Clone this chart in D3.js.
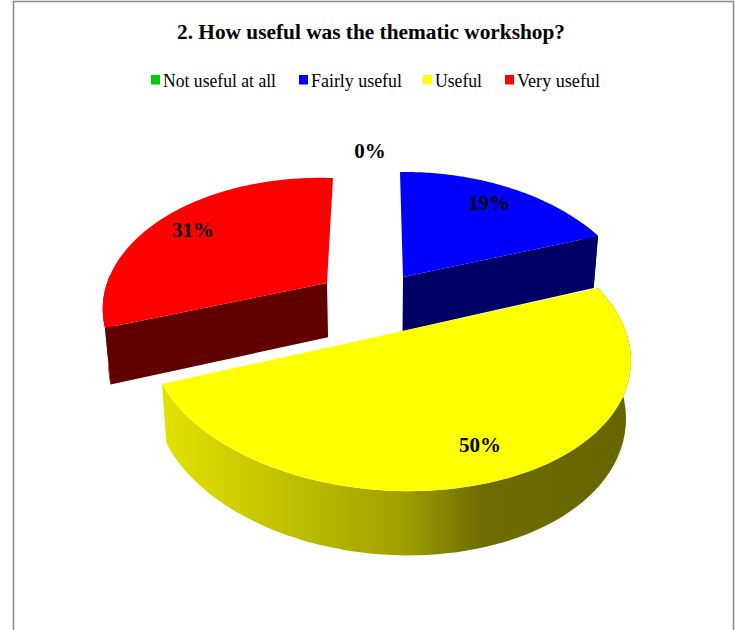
<!DOCTYPE html>
<html>
<head>
<meta charset="utf-8">
<script src="https://cdn.jsdelivr.net/npm/d3@7/dist/d3.min.js"></script>
<style>
  html, body { margin: 0; padding: 0; background: #fff; }
  svg { display: block; }
  text { font-family: "Liberation Serif", serif; fill: #000; }
</style>
</head>
<body>
<svg id="chart" width="735" height="630"></svg>
<script>
var chartTitle = '2. How useful was the thematic workshop?';
var categories = ['Not useful at all', 'Fairly useful', 'Useful', 'Very useful'];
var percents = [0, 19, 50, 31];
var topColors = ['#00cc00', '#0000ff', '#ffff00', '#ff0000'];
var sideColors = ['#006600', '#000066', 'url(#yellowSide)', '#600000'];

// where each legend entry and value label sits in the picture
var legendX = [151, 299, 423, 505];
var legendWidths = [113, 91, 47, 83];
var labelX = [370, 489, 480, 193];
var labelY = [158, 210, 452, 237];

// the picture's 3D pie is not one clean projection, so each slice gets its own
// frame: fraction along its arc (null = apex) -> screen position
var sliceFrames = [
  null,
  [[null, 403, 277], [0, 400, 172], [0.5, 507, 187], [1, 598, 236]],
  [[0, 598, 288], [0.2, 614, 412], [0.5, 398, 491], [1, 162, 384]],
  [[null, 327, 283], [0, 105, 328], [0.5, 170, 214], [1, 333, 178]]
];
// which arc end has the radial face turned to the viewer
var frontEnd = [null, 1, null, 0];
// part of each arc whose outer wall can be seen
var wallSpan = [null, [0.9, 1], [0, 1], [0, 0.2]];

var svg = d3.select('#chart');

var defs = svg.append('defs');
var yellowSide = defs.append('linearGradient')
  .attr('id', 'yellowSide')
  .attr('gradientUnits', 'userSpaceOnUse')
  .attr('x1', 163).attr('x2', 640).attr('y1', 0).attr('y2', 0);
[[0, '#e2e200'], [0.2, '#c8c800'], [0.5, '#a0a000'], [0.67, '#6c6c00'], [1, '#666600']].forEach(function (s) {
  yellowSide.append('stop').attr('offset', s[0]).attr('stop-color', s[1]);
});

/* Solve a small linear system by gaussian elimination. */
function solve(m, b) {
  var n = b.length, a = m.map(function (row, i) { return row.concat(b[i]); });
  for (var c = 0; c < n; c++) {
    var p = c;
    for (var r = c + 1; r < n; r++) {
      if (Math.abs(a[r][c]) > Math.abs(a[p][c])) { p = r; }
    }
    var tmp = a[c]; a[c] = a[p]; a[p] = tmp;
    for (r = 0; r < n; r++) {
      if (r !== c) {
        var f = a[r][c] / a[c][c];
        for (var k = c; k <= n; k++) { a[r][k] -= f * a[c][k]; }
      }
    }
  }
  return a.map(function (row, i) { return row[n] / row[i]; });
}

/* Build the plane to screen mapping for a slice from its four anchors. */
function sliceProjection(slice, anchors) {
  var m = [], b = [];
  anchors.forEach(function (an) {
    var u = 0, v = 0;
    if (an[0] !== null) {
      var ang = slice.startAngle + an[0] * (slice.endAngle - slice.startAngle);
      u = Math.sin(ang);
      v = Math.cos(ang);
    }
    m.push([u, v, 1, 0, 0, 0, -u * an[1], -v * an[1]]); b.push(an[1]);
    m.push([0, 0, 0, u, v, 1, -u * an[2], -v * an[2]]); b.push(an[2]);
  });
  var h = solve(m, b);
  return function (ang) {
    var u = Math.sin(ang), v = Math.cos(ang), w = h[6] * u + h[7] * v + 1;
    return [(h[0] * u + h[1] * v + h[2]) / w, (h[3] * u + h[4] * v + h[5]) / w];
  };
}

/* Screen position of a top-face point pushed down to the bottom face. */
function lower(p) {
  return [p[0] + (380 - p[0]) * 0.02, p[1] + 52 + (p[1] - 236) * 0.048];
}

var line = d3.line();
var pie = d3.pie().sort(null).value(function (d) { return d; });
var slices = pie(percents);

slices.forEach(function (slice, i) {
  if (!sliceFrames[i]) { return; }
  var project = sliceProjection(slice, sliceFrames[i]);
  var angles = d3.range(0, 81).map(function (j) {
    return slice.startAngle + (j / 80) * (slice.endAngle - slice.startAngle);
  });
  var rim = angles.map(project);
  var g = svg.append('g').attr('class', 'slice');

  // outer wall, then the radial face, then the top
  var wall = rim.slice(wallSpan[i][0] * 80, wallSpan[i][1] * 80 + 1);
  g.append('path')
    .attr('d', line(wall.concat(wall.map(lower).reverse())) + 'Z')
    .attr('fill', sideColors[i]);

  var apex = sliceFrames[i][0][0] === null ? [sliceFrames[i][0][1], sliceFrames[i][0][2]] : null;
  if (apex) {
    var end = rim[frontEnd[i] * (rim.length - 1)];
    g.append('path')
      .attr('d', line([apex, end, lower(end), lower(apex)]) + 'Z')
      .attr('fill', sideColors[i]);
  }

  g.append('path')
    .attr('d', line(apex ? [apex].concat(rim) : rim) + 'Z')
    .attr('fill', topColors[i]);
});

// value labels
svg.selectAll('text.value')
  .data(percents)
  .enter()
  .append('text')
  .attr('class', 'value')
  .attr('x', function (d, i) { return labelX[i]; })
  .attr('y', function (d, i) { return labelY[i]; })
  .attr('text-anchor', 'middle')
  .attr('font-size', 21)
  .attr('font-weight', 'bold')
  .text(function (d) { return d + '%'; });

// legend
var legend = svg.selectAll('g.legend')
  .data(categories)
  .enter()
  .append('g')
  .attr('class', 'legend')
  .attr('transform', function (d, i) { return 'translate(' + legendX[i] + ',75)'; });
legend.append('rect')
  .attr('width', 9)
  .attr('height', 9.5)
  .attr('fill', function (d, i) { return topColors[i]; });
legend.append('text')
  .attr('x', 12)
  .attr('y', 12)
  .attr('font-size', 19)
  .attr('textLength', function (d, i) { return legendWidths[i]; })
  .attr('lengthAdjust', 'spacingAndGlyphs')
  .text(function (d) { return d; });

svg.append('text')
  .attr('x', 371)
  .attr('y', 39)
  .attr('text-anchor', 'middle')
  .attr('font-size', 21)
  .attr('font-weight', 'bold')
  .attr('textLength', 388)
  .attr('lengthAdjust', 'spacingAndGlyphs')
  .text(chartTitle);

// chart frame, bottom edge falls outside the picture
svg.append('path')
  .attr('d', 'M13.5,630V1.5H733.5V630')
  .attr('fill', 'none')
  .attr('stroke', '#8c8c8c')
  .attr('stroke-width', 1.5);
</script>
</body>
</html>
